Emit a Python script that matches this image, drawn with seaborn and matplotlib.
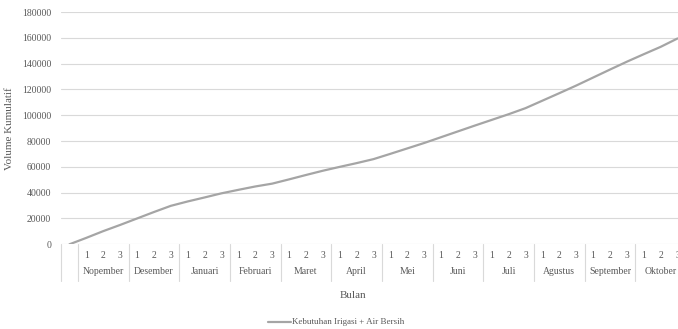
import numpy as np
import pandas as pd
import matplotlib
matplotlib.use("Agg")
import matplotlib.pyplot as plt
import matplotlib.transforms as mtransforms
import seaborn as sns

# Month groups along the category axis (each split into three dekads)
months = ["Nopember", "Desember", "Januari", "Februari", "Maret", "April",
          "Mei", "Juni", "Juli", "Agustus", "September", "Oktober"]
dekads = ["1", "2", "3"]

# Cumulative volume: starting point followed by one value per dekad
volume = [0,
          5000, 10200, 15000,
          20000, 25000, 29800,
          33200, 36300, 39500,
          42200, 44800, 47000,
          50300, 53700, 57000,
          60000, 62900, 66000,
          70100, 74300, 78500,
          83000, 87500, 92000,
          96400, 100800, 105500,
          111300, 117100, 123000,
          129200, 135400, 141500,
          147300, 153000, 159500]

y_ticks = [0, 20000, 40000, 60000, 80000, 100000, 120000, 140000, 160000, 180000]
series_name = "Kebutuhan Irigasi + Air Bersih"

df = pd.DataFrame({"pos": np.arange(len(volume)), "volume": volume,
                   "series": series_name})

sns.set_theme(style="white")
plt.rcParams["font.family"] = ["Liberation Serif", "DejaVu Serif"]

W, H = 678, 329
fig = plt.figure(figsize=(W / 100, H / 100), dpi=100)
left_px, right_px, top_px, bottom_px = 61, 686, 12, 244.3
ax = fig.add_axes([left_px / W, 1 - bottom_px / H,
                   (right_px - left_px) / W, (bottom_px - top_px) / H])

text_col = "#595959"
grid_col = "#D9D9D9"

sns.lineplot(data=df, x="pos", y="volume", hue="series",
             palette=["#A5A5A5"], linewidth=1.6, ax=ax, legend=False)

ax.set_xlim(-0.5, len(volume) - 0.5)
ax.set_ylim(0, 180000)
ax.set_yticks(y_ticks)
ax.set_yticklabels([str(t) for t in y_ticks], fontsize=7, color=text_col)
ax.tick_params(axis="y", length=0, pad=7)
ax.set_xticks([])
ax.grid(axis="y", color=grid_col, linewidth=0.8)
ax.set_axisbelow(True)
for s in ax.spines.values():
    s.set_visible(False)
ax.set_xlabel("")
ax.set_ylabel("Volume Kumulatif", fontsize=8, color=text_col, labelpad=6)

# Two-level category axis: dekad numbers and month names with separators
trans = mtransforms.blended_transform_factory(ax.transData, ax.transAxes)
axh = bottom_px - top_px
y_dek = -11.5 / axh
y_mon = -27.5 / axh
y_sep = -37 / axh
for b in [-0.5, 0.5]:
    ax.plot([b, b], [0, y_sep], color=grid_col, lw=0.8, transform=trans,
            clip_on=False)
for m, name in enumerate(months):
    start = 1 + 3 * m
    for d, lab in enumerate(dekads):
        ax.text(start + d, y_dek, lab, transform=trans, ha="center",
                va="center", fontsize=7, color=text_col)
    ax.text(start + 1, y_mon, name, transform=trans, ha="center",
            va="center", fontsize=7, color=text_col)
    b = start + 2.5
    ax.plot([b, b], [0, y_sep], color=grid_col, lw=0.8, transform=trans,
            clip_on=False)

fig.text(353 / W, 1 - 296 / H, "Bulan", ha="center", va="center",
         fontsize=8, color=text_col)

# Legend entry below the chart
fig.add_artist(plt.Line2D([268 / W, 291 / W], [1 - 322 / H, 1 - 322 / H],
                          color="#A5A5A5", lw=1.6))
fig.text(292 / W, 1 - 322 / H, series_name, ha="left", va="center",
         fontsize=6.5, color=text_col)

fig.savefig("out.png", dpi=100)
